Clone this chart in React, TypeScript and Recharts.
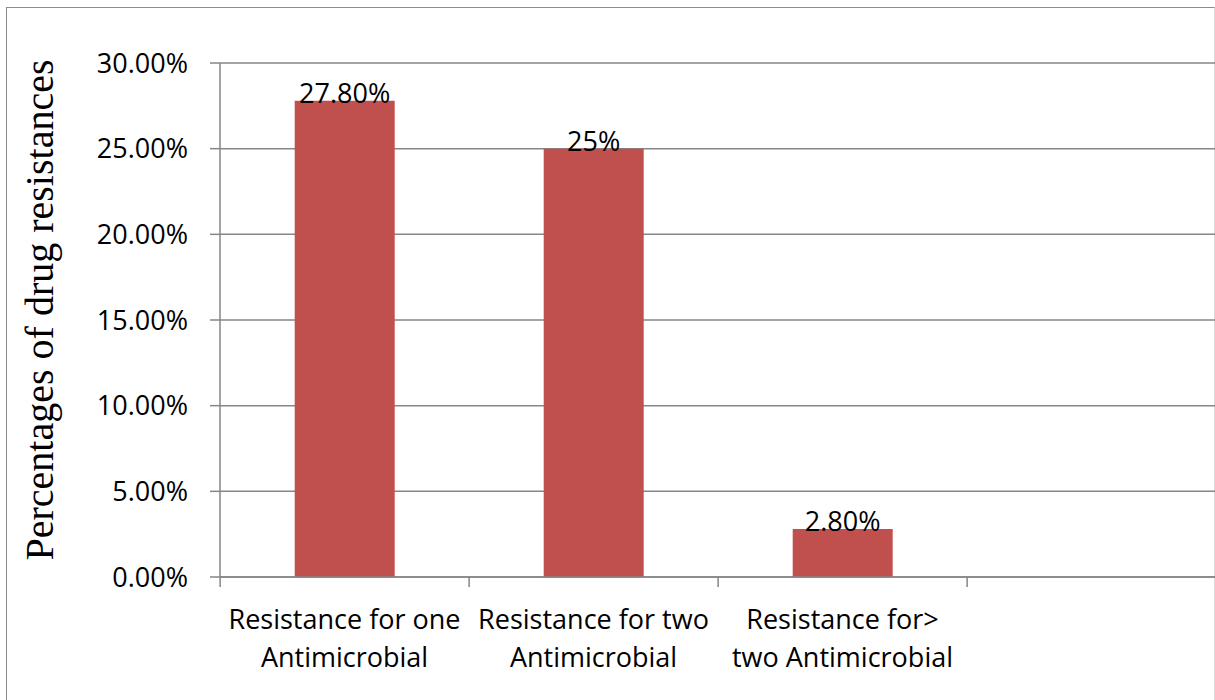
import React from 'react';
import { BarChart, Bar, XAxis, YAxis, CartesianGrid, LabelList } from 'recharts';

const categories = [
  'Resistance for one|Antimicrobial',
  'Resistance for two|Antimicrobial',
  'Resistance for>|two Antimicrobial',
  '',
];
const resistance = [27.8, 25, 2.8, null];
const valueLabels = ['27.80%', '25%', '2.80%', ''];
const yTicks = [0, 5, 10, 15, 20, 25, 30];

const data = categories.map((name, i) => ({
  name,
  value: resistance[i],
  label: valueLabels[i],
}));

const WIDTH = 1215;
const HEIGHT = 700;
const margin = { top: 63, right: 0, left: 0, bottom: 0 };
const band = (WIDTH - 220 - margin.right) / categories.length;

const sans = '"Open Sans", sans-serif';

const CategoryTick = (props: any) => {
  const { x, y, payload, index } = props;
  const lines = String(payload.value).split('|').filter((s) => s);
  return (
    <g>
      <line x1={x - band / 2} x2={x - band / 2} y1={y} y2={y + 10} stroke="#868686" strokeWidth={1.5} />
      {index === categories.length - 1 && (
        <line x1={x + band / 2} x2={x + band / 2} y1={y} y2={y + 10} stroke="#868686" strokeWidth={1.5} />
      )}
      {lines.map((l, i) => (
        <text key={i} x={x} y={y + 52 + i * 38} textAnchor="middle" fontSize={27} fontFamily={sans} fill="#000">
          {l}
        </text>
      ))}
    </g>
  );
};

const ValueLabel = (props: any) => {
  const { x, y, width, value } = props;
  if (!value) return null;
  return (
    <text x={x + width / 2} y={y + 2} textAnchor="middle" fontSize={27} fontFamily={sans} fill="#000">
      {value}
    </text>
  );
};

const AxisTitle = (props: any) => {
  const { viewBox } = props;
  const cy = viewBox.y + viewBox.height / 2 - 10;
  const cx = 53;
  return (
    <text
      x={cx}
      y={cy}
      transform={`rotate(-90, ${cx}, ${cy})`}
      textAnchor="middle"
      fontSize={40}
      fontFamily='"Liberation Serif", "Times New Roman", serif'
      fill="#000"
    >
      Percentages of drug resistances
    </text>
  );
};

const App = () => {
  return (
    <div style={{ position: 'absolute', left: 0, top: 0, width: WIDTH, height: HEIGHT, background: '#fff' }}>
      <div
        style={{
          position: 'absolute',
          left: 6,
          top: 7,
          width: 1207,
          height: 720,
          borderLeft: '1.5px solid #8c8c8c',
          borderTop: '1.5px solid #8c8c8c',
          borderRight: '1.5px solid #d9d9d9',
        }}
      />
      <div style={{ position: 'absolute', left: 0, top: 0 }}>
        <BarChart width={WIDTH + 1} height={HEIGHT} data={data} margin={margin} barCategoryGap="30%">
          <CartesianGrid vertical={false} stroke="#868686" strokeWidth={1.5} />
          <XAxis
            dataKey="name"
            height={123}
            tick={<CategoryTick />}
            tickLine={false}
            tickSize={0}
            tickMargin={0}
            interval={0}
            axisLine={{ stroke: '#868686', strokeWidth: 1.5 }}
          />
          <YAxis
            width={220}
            domain={[0, 30]}
            ticks={yTicks}
            interval={0}
            tickFormatter={(v: number) => v.toFixed(2) + '%'}
            tickSize={10}
            tickMargin={22}
            tickLine={{ stroke: '#868686', strokeWidth: 1.5 }}
            axisLine={{ stroke: '#868686', strokeWidth: 1.5 }}
            tick={{ fontSize: 27, fontFamily: sans, fill: '#000' }}
            label={<AxisTitle />}
          />
          <Bar dataKey="value" fill="#C0504D" isAnimationActive={false}>
            <LabelList dataKey="label" content={<ValueLabel />} />
          </Bar>
        </BarChart>
      </div>
    </div>
  );
};

export default App;
